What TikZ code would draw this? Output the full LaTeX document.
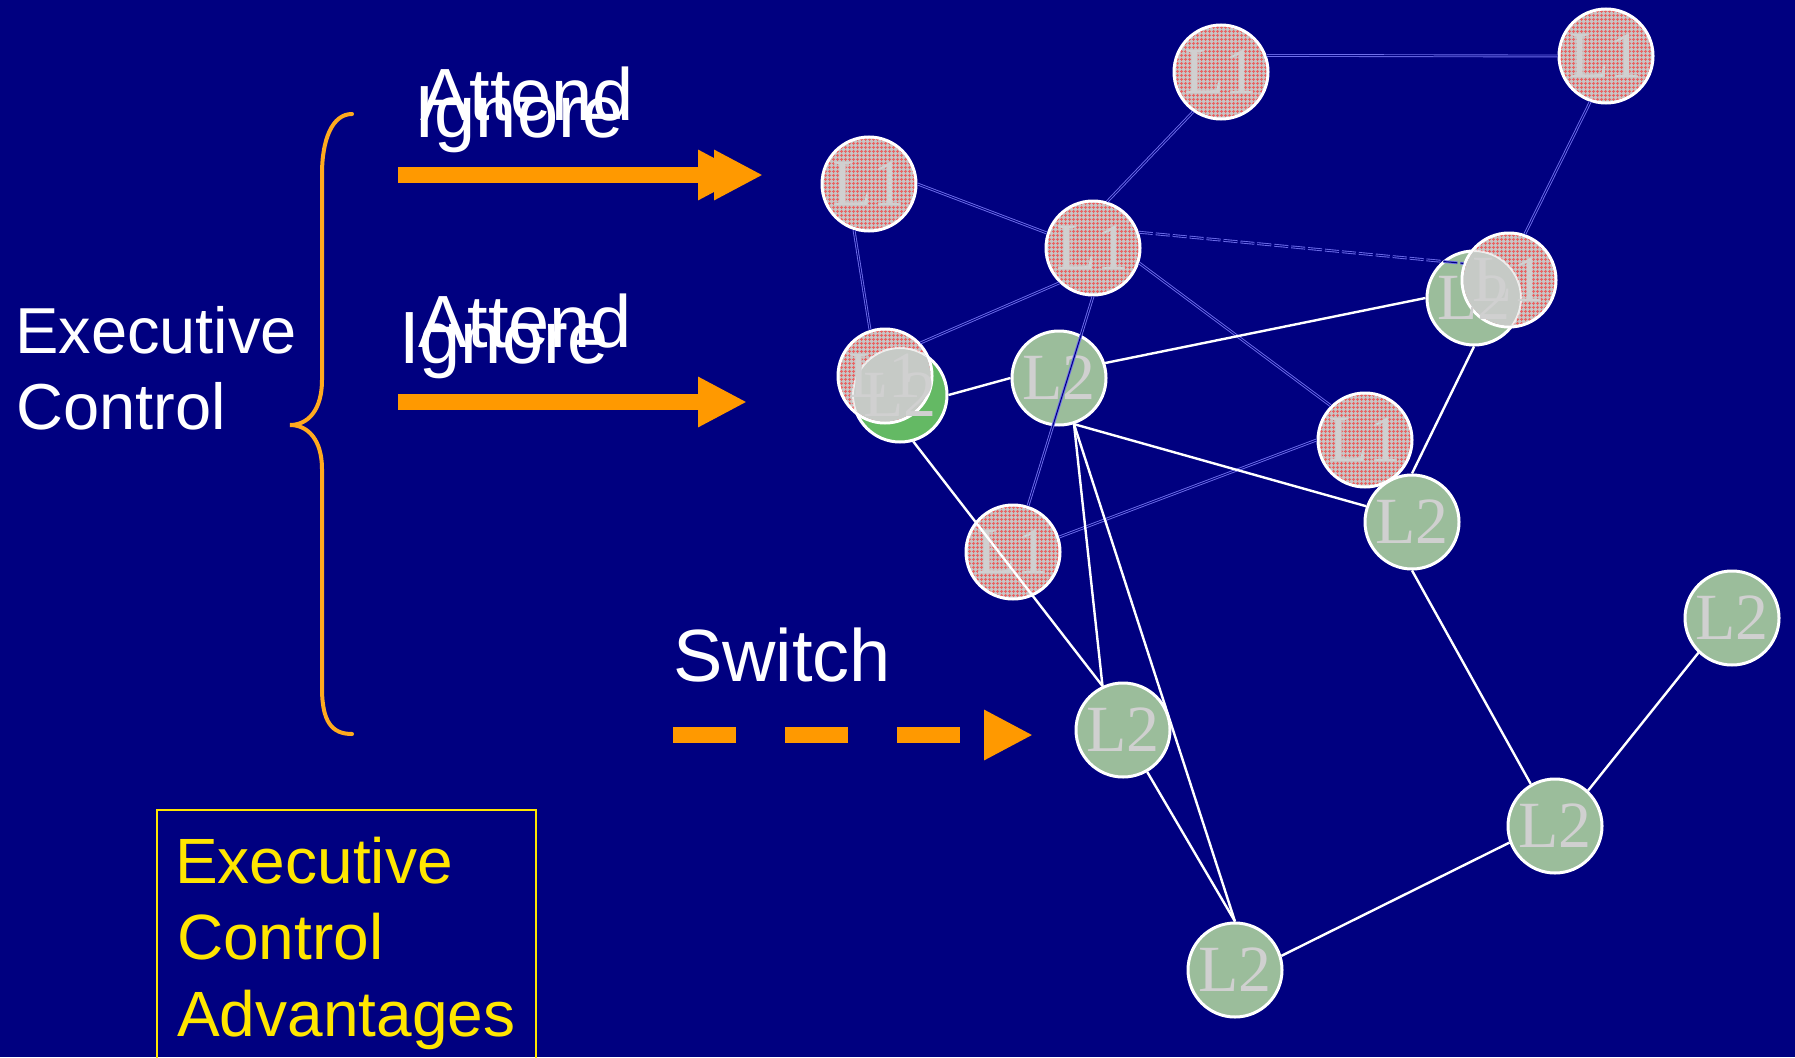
\documentclass[tikz,border=0pt]{standalone}
\usepackage{fontspec}
\setmainfont{Liberation Serif}
\newfontfamily\arialf{Liberation Sans}
\usetikzlibrary{arrows.meta,patterns}
\definecolor{bg}{RGB}{0,0,128}
\definecolor{orng}{RGB}{255,153,0}
\definecolor{brc}{RGB}{255,170,30}
\definecolor{ylw}{RGB}{255,230,0}
\definecolor{lonegrey}{RGB}{200,198,198}
\definecolor{lonered}{RGB}{232,100,100}
\definecolor{ltwofill}{RGB}{155,189,155}
\definecolor{ltwobright}{RGB}{100,185,100}
\definecolor{lbltxt}{RGB}{208,208,208}
\definecolor{dbl}{RGB}{110,110,235}
\definecolor{ovl}{RGB}{198,202,198}
\pgfdeclarepatternformonly{lgrid}{\pgfqpoint{0pt}{0pt}}{\pgfqpoint{4pt}{4pt}}{\pgfqpoint{4pt}{4pt}}{%
  \pgfsetlinewidth{1.2pt}%
  \pgfpathmoveto{\pgfqpoint{2pt}{0pt}}\pgfpathlineto{\pgfqpoint{2pt}{4pt}}%
  \pgfpathmoveto{\pgfqpoint{0pt}{2pt}}\pgfpathlineto{\pgfqpoint{4pt}{2pt}}%
  \pgfusepath{stroke}}
\begin{document}
\begin{tikzpicture}[x=1pt,y=-1pt,
  nd/.style={circle, draw=white, line width=3pt, minimum size=94pt, inner sep=0pt, text=lbltxt, font=\fontsize{66}{66}\selectfont},
  ndone/.style={nd, preaction={fill=lonegrey}, preaction={pattern=lgrid, pattern color=lonered}},
  ndtwo/.style={nd, fill=ltwofill},
  lbl/.style={text=lbltxt, font=\fontsize{66}{66}\selectfont, inner sep=0pt},
  oneedge/.style={draw=dbl, double=bg, double distance=1pt, line width=0.9pt},
  twoedge/.style={draw=white, line width=2.4pt},
  bigtxt/.style={font=\arialf\fontsize{74}{74}\selectfont, text=white, inner sep=0pt, anchor=base west},
  midtxt/.style={font=\arialf\fontsize{65}{65}\selectfont, text=white, inner sep=0pt, anchor=base west},
  ylwtxt/.style={font=\arialf\fontsize{64}{64}\selectfont, text=ylw, inner sep=0pt, anchor=base west},
  fatarrow/.style={draw=orng, line width=16.5pt, -{Triangle[length=49pt,width=47pt]}},
]
\useasboundingbox (0,0) rectangle (1795,1057);
\clip (0,0) rectangle (1795,1057);
\fill[bg] (0,0) rectangle (1795,1057);

% brace
\draw[brc, line width=4pt, line cap=round] (352,114) .. controls (332,114) and (322,140) .. (322,174) -- (322,380) .. controls (322,410) and (308,425) .. (290,425) .. controls (308,425) and (322,440) .. (322,469) -- (322,688) .. controls (322,722) and (332,734) .. (352,734);

% texts
\node[midtxt] (ec1) at (15,353) {Executive};
\node[midtxt] (ec2) at (16,429) {Control};
\node[bigtxt] (att1) at (420,120) {Attend};
\node[bigtxt] (ign1) at (414,137) {Ignore};
\node[bigtxt] (att2) at (418,347) {Attend};
\node[bigtxt] (ign2) at (399,363) {Ignore};
\node[bigtxt] (sw) at (673,681) {Switch};

% arrows
\coordinate (t1s) at (398,175);
\coordinate (t1e) at (747,175);
\coordinate (t1f) at (763,175);
\coordinate (t2s) at (398,402);
\coordinate (t2e) at (747,402);
\coordinate (t3s) at (673,735);
\coordinate (t3e) at (1033,735);
\draw[fatarrow] (t1s) -- (t1e);
\draw[fatarrow] (t1s) -- (t1f);
\draw[fatarrow] (t2s) -- (t2e);
\draw[fatarrow, dash pattern=on 63pt off 49pt] (t3s) -- (t3e);

% box
\node[draw=ylw, line width=2pt, minimum width=379pt, minimum height=260pt, anchor=north west, inner sep=0pt] (box) at (156,809) {};
\node[ylwtxt] (y1) at (175,883) {Executive};
\node[ylwtxt] (y2) at (177,959) {Control};
\node[ylwtxt] (y3) at (177,1036) {Advantages};

% L2 nodes
\node[ndtwo, fill=ltwobright] (b1) at (900,395) {};
\node[ndtwo] (b2) at (1059,378) {L2};
\node[ndtwo] (b3) at (1474,298) {};
\node[ndtwo] (b4) at (1412,522) {L2};
\node[ndtwo] (b5) at (1123,730) {L2};
\node[ndtwo] (b6) at (1732,618) {L2};
\node[ndtwo] (b7) at (1555,826) {L2};
\node[ndtwo] (b8) at (1235,970) {L2};

% L1 nodes
\node[ndone] (a1) at (1221,72) {L1};
\node[ndone] (a2) at (1606,56) {L1};
\node[ndone] (a3) at (869,184) {L1};
\node[ndone] (a4) at (1093,248) {L1};
\node[ndone] (a5) at (1509,280) {};
\node[ndone] (a6) at (885,376) {};
\node[ndone] (a7) at (1365,440) {L1};
\node[ndone] (a8) at (1013,552) {L1};

% overlaps
\begin{scope}
  \clip (a6.center) circle (45.5pt);
  \fill[ovl] (b1.center) circle (47pt);
  \draw[white, line width=2pt, opacity=0.7] (b1.center) circle (47pt);
\end{scope}
\begin{scope}
  \clip (a5.center) circle (45.5pt);
  \fill[ovl] (b3.center) circle (47pt);
  \draw[white, line width=2pt, opacity=0.7] (b3.center) circle (47pt);
\end{scope}
\node[lbl] (b1t) at (b1) {L2};
\node[lbl] (a6t) at (a6) {L1};
\node[lbl] (b3t) at (b3) {L2};
\node[lbl] (a5t) at (a5) {L1};

% L1 edges
\draw[oneedge] (a1.20) -- (a2.west);
\draw[oneedge] (a1.235) -- (a4.73);
\draw[oneedge] (a3.east) -- (a4.162);
\draw[oneedge] (a3.252) -- (a6.108);
\draw[oneedge] (a4.226) -- (a6.43);
\draw[oneedge, dash pattern=on 14pt off 3pt] (a4.19) -- (a5.160);
\draw[oneedge] (a4.342) -- (a7.135);
\draw[oneedge] (a4.south) -- (a8.72);
\draw[oneedge] (a2.251) -- (a5.71);
\draw[oneedge] (a7.west) -- (a8.18);

% L2 edges
\draw[twoedge] (b1.east) -- (b2.west);
\draw[twoedge] (b2.18) -- (b3.west);
\draw[twoedge] (b2.288) -- (b4.161);
\draw[twoedge] (b2.288) -- (b5.115);
\draw[twoedge] (b2.288) -- (b8.north);
\draw[twoedge] (b1.286) -- (b5.115);
\draw[twoedge] (b5.300) -- (b8.north);
\draw[twoedge] (b3.south) -- (b4.north);
\draw[twoedge] (b4.south) -- (b7.120);
\draw[twoedge] (b6.226) -- (b7.47);
\draw[twoedge] (b7.200) -- (b8.17);
\end{tikzpicture}
\end{document}
